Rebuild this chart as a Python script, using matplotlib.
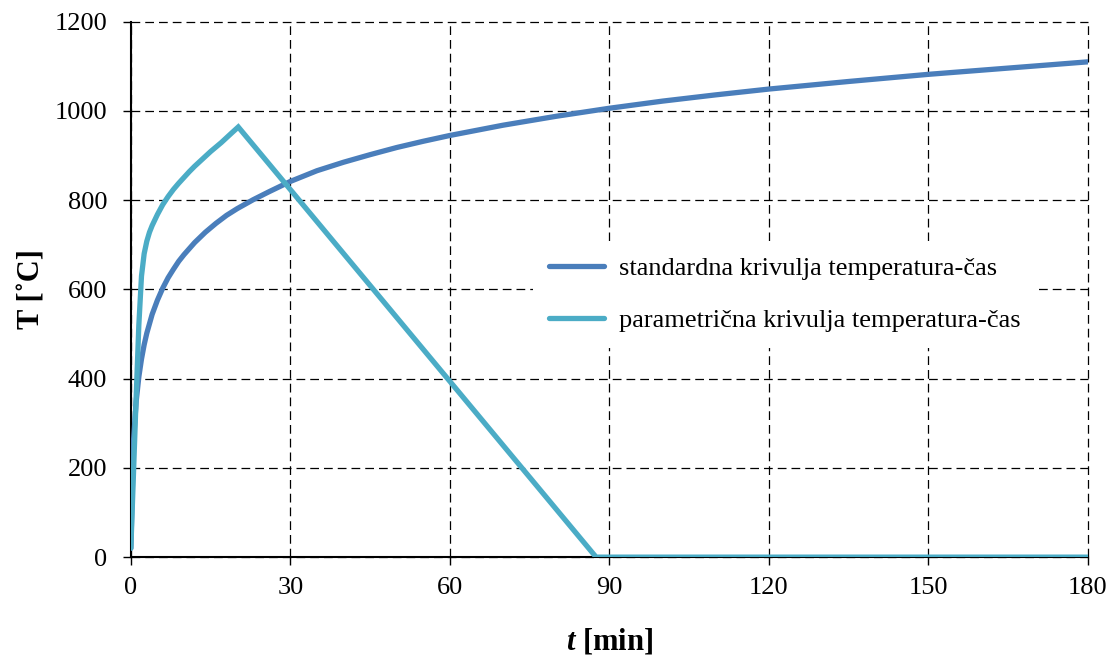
import matplotlib
matplotlib.use("Agg")
import matplotlib.pyplot as plt

# Data
t_std = [0, 0.5, 1, 1.5, 2, 2.5, 3, 4, 5, 6, 7, 8, 9, 10, 12, 14, 16, 18, 20,
         23, 26, 30, 35, 40, 45, 50, 55, 60, 70, 80, 90, 100, 110, 120, 135,
         150, 165, 180]
T_std = [20, 261, 349, 404, 444, 476, 502, 544, 576, 603, 626, 645, 663, 678,
         705, 728, 748, 766, 781, 801, 819, 842, 866, 885, 902, 918, 932, 945,
         968, 988, 1006, 1022, 1036, 1049, 1066, 1082, 1096, 1110]

t_par = [0, 0.5, 1, 1.5, 2, 2.5, 3, 3.5, 4, 5, 6, 7, 8, 9, 10, 11, 12, 13, 14,
         15, 16, 17, 18, 19, 20.2, 87.5, 180]
T_par = [20, 190, 360, 520, 630, 680, 708, 728, 743, 768, 790, 808, 824, 838,
         851, 864, 876, 887, 898, 909, 919, 929, 940, 951, 964, 0, 0]

plt.rcParams['font.family'] = 'Liberation Serif'
plt.rcParams['mathtext.fontset'] = 'custom'
plt.rcParams['mathtext.it'] = 'Liberation Serif:italic:bold'
plt.rcParams['mathtext.rm'] = 'Liberation Serif:bold'

fig = plt.figure(figsize=(11.09, 6.57), dpi=100)
ax = fig.add_axes([0.118, 0.152, 0.863, 0.815])

ax.plot(t_std, T_std, color='#4A7EBB', lw=3.8, solid_capstyle='round',
        label='standardna krivulja temperatura-čas', zorder=3)
ax.plot(t_par, T_par, color='#4BACC6', lw=3.8, solid_capstyle='round',
        solid_joinstyle='miter', label='parametrična krivulja temperatura-čas', zorder=3)

ax.set_xlim(0, 180)
ax.set_ylim(0, 1200)
ax.set_xticks(range(0, 181, 30))
ax.set_yticks(range(0, 1201, 200))
ax.tick_params(labelsize=19, direction='out', length=6, width=1, colors='black')
ax.tick_params(axis='x', pad=8)
ax.tick_params(axis='y', pad=11)

ax.grid(True, color='black', linestyle=(0, (7, 4)), linewidth=0.9)
for gl in ax.get_xgridlines() + ax.get_ygridlines():
    gl.set_clip_on(False)
ax.set_axisbelow(True)
for s in ['top', 'right']:
    ax.spines[s].set_visible(False)
for s in ['left', 'bottom']:
    ax.spines[s].set_linewidth(1.5)
    ax.spines[s].set_zorder(2)

ax.set_xlabel('$t$ [min]', fontsize=22, fontweight='bold', labelpad=20)
ax.set_ylabel('T [˚C]', fontsize=22, fontweight='bold', labelpad=6)

leg = ax.legend(loc='upper left', bbox_to_anchor=(0.4065, 0.615), fontsize=19,
                frameon=True, fancybox=False, edgecolor='none', framealpha=1,
                handlelength=2.1, handletextpad=0.55, labelspacing=1.08,
                borderpad=0.6)
leg.get_frame().set_linewidth(0)

fig.savefig('out.png', dpi=100)
